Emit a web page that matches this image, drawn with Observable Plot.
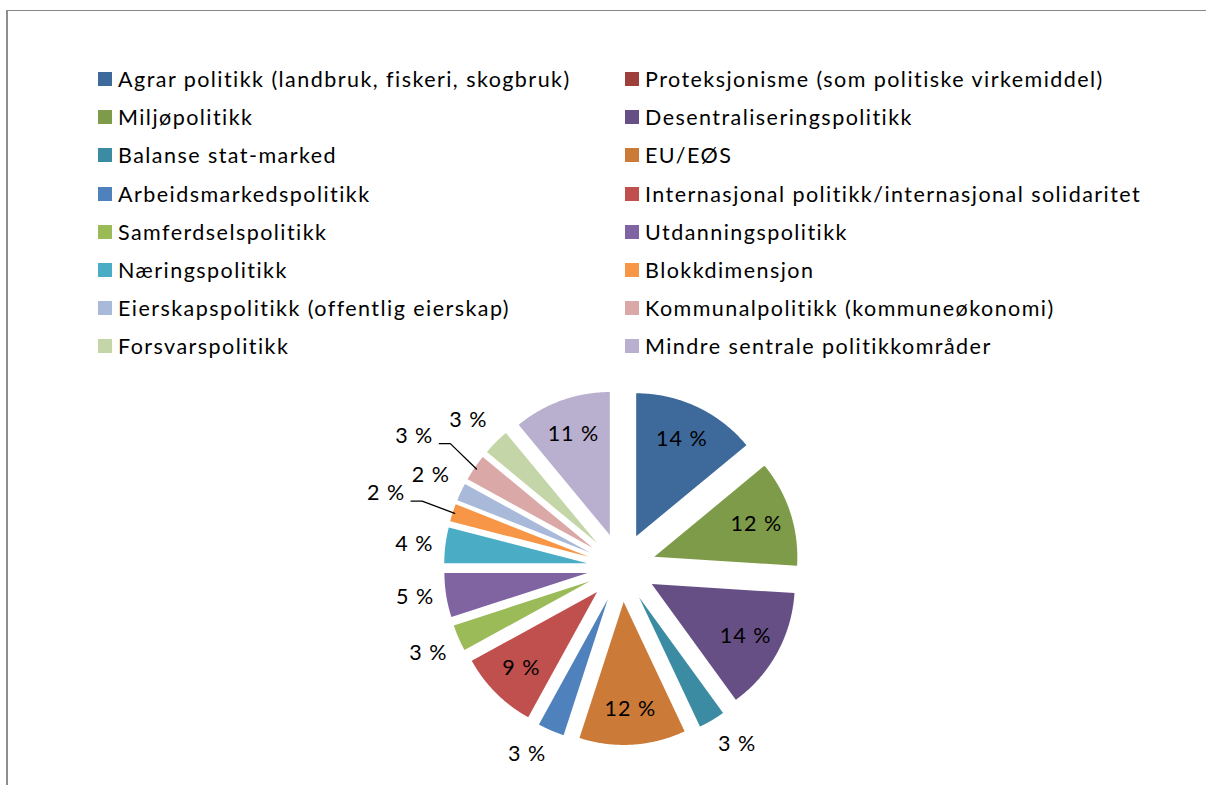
<!DOCTYPE html>
<html><head><meta charset="utf-8">
<script src="https://cdn.jsdelivr.net/npm/d3@7"></script>
<script src="https://cdn.jsdelivr.net/npm/@observablehq/plot@0.6"></script>
<style>
html,body{margin:0;padding:0;background:#fff;}
#page{position:relative;width:1206px;height:785px;overflow:hidden;font-family:Lato,"Liberation Sans",sans-serif;}
#frame{position:absolute;left:6px;top:10px;width:1400px;height:1000px;border-top:1px solid #888;border-left:2px solid #8e8e8e;}
#legend{position:absolute;left:98px;top:60px;}
#pie{position:absolute;left:0;top:0;}
.lg-swatches{display:grid!important;grid-template-columns:527px 527px;width:1054px;margin:0!important;}
.lg-swatch{display:flex;align-items:center;height:38.2px;padding-bottom:0!important;}
.lg-swatch > svg{margin-right:6px!important;}
.lg-swatch-label{overflow:visible!important;color:#000;letter-spacing:1.45px;}
</style></head>
<body><div id="page"><div id="frame"></div><div id="pie"></div><div id="legend"></div></div>
<script>
const categories = [
  "Agrar politikk (landbruk, fiskeri, skogbruk)",
  "Proteksjonisme (som politiske virkemiddel)",
  "Miljøpolitikk",
  "Desentraliseringspolitikk",
  "Balanse stat-marked",
  "EU/EØS",
  "Arbeidsmarkedspolitikk",
  "Internasjonal politikk/internasjonal solidaritet",
  "Samferdselspolitikk",
  "Utdanningspolitikk",
  "Næringspolitikk",
  "Blokkdimensjon",
  "Eierskapspolitikk (offentlig eierskap)",
  "Kommunalpolitikk (kommuneøkonomi)",
  "Forsvarspolitikk",
  "Mindre sentrale politikkområder"
];
const values = [14, 0, 12, 14, 3, 12, 3, 9, 3, 5, 4, 2, 2, 3, 3, 11];
const colors = [
  "#3e699b", "#9e3f3c", "#7e9b4a", "#664f85", "#3b8ca3", "#cc7a37",
  "#4f81bd", "#c0504d", "#9bbb59", "#8064a2", "#4bacc6", "#f79646",
  "#a8b9da", "#daa8a6", "#c4d6a7", "#b9afcf"
];
const labels = values.map(v => v + " %");

// layout
const W = 1206, H = 785;
const R = 143, CX = 621, CY = 567, EXPLODE = 34.5 / 143;
const FS = 21.5, LS = 1;
const leaderSet = new Set(["Blokkdimensjon", "Kommunalpolitikk (kommuneøkonomi)"]);

const ctx = document.createElement("canvas").getContext("2d");
ctx.font = `${FS}px Lato`;
const textWidth = s => ctx.measureText(s).width + LS * s.length;

const total = d3.sum(values);
let cum = 0;
const slices = categories.map((name, i) => {
  const v = values[i];
  const a0 = cum / total * 2 * Math.PI; cum += v;
  const a1 = cum / total * 2 * Math.PI;
  const mid = (a0 + a1) / 2;
  const ux = Math.sin(mid), uy = -Math.cos(mid);
  return {name, value: v, label: labels[i], a0, a1, mid, ux, uy, ox: EXPLODE * ux, oy: EXPLODE * uy};
}).filter(d => d.value > 0);

const pts = [];
for (const s of slices) {
  pts.push({name: s.name, x: s.ox, y: s.oy});
  const n = Math.max(4, Math.ceil((s.a1 - s.a0) / 0.005));
  for (let k = 0; k <= n; k++) {
    const a = s.a0 + (s.a1 - s.a0) * k / n;
    pts.push({name: s.name, x: s.ox + Math.sin(a), y: s.oy - Math.cos(a)});
  }
}

const textData = [], leaderPts = [];
const clamp = (v, a, b) => Math.max(a, Math.min(b, v));
for (const s of slices) {
  const hw = textWidth(s.label) / 2;
  const sx = Math.sign(s.ux) || 1, sy = Math.sign(s.uy) || 1;
  if (s.value >= 9) {
    const t = 0.75;
    textData.push({label: s.label, x: s.ox + t * s.ux, y: s.oy + t * s.uy});
  } else if (leaderSet.has(s.name)) {
    const ax = s.ox + s.ux, ay = s.oy + s.uy;
    const lx = ax + (50 / R) * s.ux + sx * hw / R;
    const ly = ay + (50 / R) * s.uy - 4 / R;
    textData.push({label: s.label, x: lx, y: ly});
    const x0 = lx - sx * (hw + 6) / R, y0 = ly + 8 / R;
    leaderPts.push({name: s.name, x: x0, y: y0});
    leaderPts.push({name: s.name, x: x0 - sx * 11 / R, y: y0});
    leaderPts.push({name: s.name, x: s.ox + 0.985 * s.ux, y: s.oy + 0.985 * s.uy});
  } else {
    const px = s.ox + (1 + 12 / R) * s.ux, py = s.oy + (1 + 12 / R) * s.uy;
    const offx = hw * sx;
    const offy = 13 * clamp((Math.abs(s.uy) - 0.15) / 0.3, 0, 1) * sy;
    textData.push({label: s.label, x: px + offx / R, y: py + offy / R});
  }
}

const plot = Plot.plot({
  width: W, height: H, margin: 0,
  x: {domain: [-CX / R, (W - CX) / R], range: [0, W], axis: null},
  y: {domain: [-CY / R, (H - CY) / R], range: [0, H], axis: null},
  color: {domain: categories, range: colors},
  style: {background: "transparent", fontFamily: "Lato", letterSpacing: `${LS}px`},
  marks: [
    Plot.line(pts, {x: "x", y: "y", z: "name", fill: "name", stroke: "none", curve: "linear-closed"}),
    Plot.line(leaderPts, {x: "x", y: "y", z: "name", stroke: "#000", strokeWidth: 1.3}),
    Plot.text(textData, {x: "x", y: "y", text: "label", fontSize: FS, fontFamily: "Lato", fill: "#000", textAnchor: "middle", lineAnchor: "middle"})
  ]
});
document.getElementById("pie").appendChild(plot);

const legend = Plot.legend({
  color: {type: "ordinal", domain: categories, range: colors},
  legend: "swatches",
  columns: 2,
  swatchSize: 14,
  className: "lg",
  style: {fontFamily: "Lato", fontSize: "21.5px", color: "#000"}
});
document.getElementById("legend").appendChild(legend);
</script>
</body></html>
